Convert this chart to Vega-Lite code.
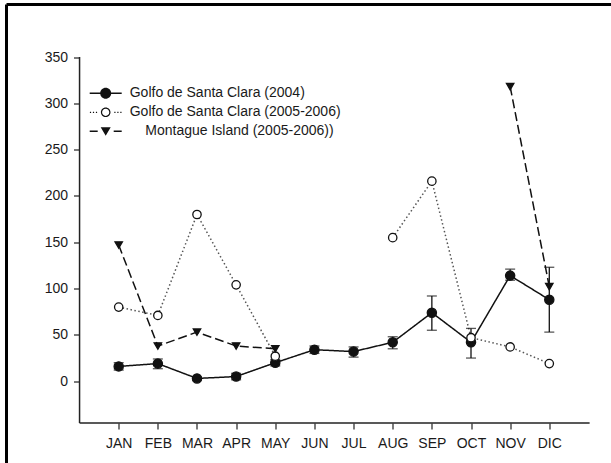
{
  "$schema": "https://vega.github.io/schema/vega-lite/v6.json",
  "autosize": "none",
  "width": 604.5,
  "height": 458.5,
  "padding": {"left": 6.5, "top": 4.5, "right": 0, "bottom": 0},
  "background": "white",
  "config": {
    "font": "Liberation Sans",
    "view": {"stroke": "#000", "strokeWidth": 3, "strokeDash": [604.5, 1063, 458.5, 0], "fill": null},
    "axis": {"domain": false, "grid": false, "labelFont": "Liberation Sans", "labelFontSize": 14, "labelColor": "#1a1a1a", "tickColor": "#222", "tickSize": 6, "tickWidth": 1.2, "title": null}
  },
  "datasets": {
    "pts": [
      {"m": 1, "s": "Golfo de Santa Clara (2004)", "v": 16, "lo": 12, "hi": 20},
      {"m": 2, "s": "Golfo de Santa Clara (2004)", "v": 19, "lo": 13.5, "hi": 24},
      {"m": 3, "s": "Golfo de Santa Clara (2004)", "v": 3, "lo": 1.5, "hi": 4.5},
      {"m": 4, "s": "Golfo de Santa Clara (2004)", "v": 5, "lo": 1.5, "hi": 8.5},
      {"m": 5, "s": "Golfo de Santa Clara (2004)", "v": 20, "lo": 16.5, "hi": 23.5},
      {"m": 6, "s": "Golfo de Santa Clara (2004)", "v": 34, "lo": 30, "hi": 38},
      {"m": 7, "s": "Golfo de Santa Clara (2004)", "v": 32, "lo": 26, "hi": 37},
      {"m": 8, "s": "Golfo de Santa Clara (2004)", "v": 42, "lo": 35, "hi": 48},
      {"m": 9, "s": "Golfo de Santa Clara (2004)", "v": 74, "lo": 55, "hi": 92},
      {"m": 10, "s": "Golfo de Santa Clara (2004)", "v": 42, "lo": 25, "hi": 57},
      {"m": 11, "s": "Golfo de Santa Clara (2004)", "v": 114, "lo": 109, "hi": 121},
      {"m": 12, "s": "Golfo de Santa Clara (2004)", "v": 88, "lo": 53, "hi": 123},
      {"m": 1, "s": "Golfo de Santa Clara (2005-2006)", "v": 80},
      {"m": 2, "s": "Golfo de Santa Clara (2005-2006)", "v": 71},
      {"m": 3, "s": "Golfo de Santa Clara (2005-2006)", "v": 180},
      {"m": 4, "s": "Golfo de Santa Clara (2005-2006)", "v": 104},
      {"m": 5, "s": "Golfo de Santa Clara (2005-2006)", "v": 27},
      {"m": 6, "s": "Golfo de Santa Clara (2005-2006)", "v": null},
      {"m": 7, "s": "Golfo de Santa Clara (2005-2006)", "v": null},
      {"m": 8, "s": "Golfo de Santa Clara (2005-2006)", "v": 155},
      {"m": 9, "s": "Golfo de Santa Clara (2005-2006)", "v": 216},
      {"m": 10, "s": "Golfo de Santa Clara (2005-2006)", "v": 47},
      {"m": 11, "s": "Golfo de Santa Clara (2005-2006)", "v": 37},
      {"m": 12, "s": "Golfo de Santa Clara (2005-2006)", "v": 19},
      {"m": 1, "s": "Montague Island (2005-2006))", "v": 147},
      {"m": 2, "s": "Montague Island (2005-2006))", "v": 38},
      {"m": 3, "s": "Montague Island (2005-2006))", "v": 53},
      {"m": 4, "s": "Montague Island (2005-2006))", "v": 38},
      {"m": 5, "s": "Montague Island (2005-2006))", "v": 35},
      {"m": 6, "s": "Montague Island (2005-2006))", "v": null},
      {"m": 7, "s": "Montague Island (2005-2006))", "v": null},
      {"m": 8, "s": "Montague Island (2005-2006))", "v": null},
      {"m": 9, "s": "Montague Island (2005-2006))", "v": null},
      {"m": 10, "s": "Montague Island (2005-2006))", "v": null},
      {"m": 11, "s": "Montague Island (2005-2006))", "v": 318},
      {"m": 12, "s": "Montague Island (2005-2006))", "v": 102}
    ],
    "one": [{"k": "axis"}]
  },
  "layer": [
    {
      "data": {"name": "one"},
      "mark": {"type": "rule", "color": "#222", "strokeWidth": 1.5},
      "encoding": {
        "x": {"datum": 0, "type": "quantitative", "scale": {"domain": [-1.8663, 13.5763], "nice": false, "zero": false},
          "axis": {"values": [1,2,3,4,5,6,7,8,9,10,11,12], "labelExpr": "['JAN','FEB','MAR','APR','MAY','JUN','JUL','AUG','SEP','OCT','NOV','DIC'][datum.value - 1]", "offset": -40.1, "labelPadding": 8, "title": null}},
        "x2": {"datum": 13.03},
        "y": {"datum": -45, "type": "quantitative", "scale": {"domain": [-88.3, 406.68], "nice": false, "zero": false},
          "axis": {"values": [0,50,100,150,200,250,300,350], "offset": -73, "labelPadding": 6, "title": null}}
      }
    },
    {
      "data": {"name": "one"},
      "mark": {"type": "rule", "color": "#222", "strokeWidth": 1.5},
      "encoding": {
        "x": {"datum": 0, "type": "quantitative"},
        "y": {"datum": -45, "type": "quantitative"},
        "y2": {"datum": 350}
      }
    },
    {
      "data": {"name": "pts"},
      "layer": [
        {
          "mark": {"type": "line", "strokeWidth": 1.5, "invalid": "break-paths-show-domains"},
          "encoding": {
            "x": {"field": "m", "type": "quantitative"},
            "y": {"field": "v", "type": "quantitative"},
            "strokeDash": {"field": "s", "type": "nominal", "scale": {"domain": ["Golfo de Santa Clara (2004)", "Golfo de Santa Clara (2005-2006)", "Montague Island (2005-2006))"], "range": [[1, 0], [1.5, 2.5], [9, 4]]}, "legend": null},
            "stroke": {"field": "s", "type": "nominal", "scale": {"domain": ["Golfo de Santa Clara (2004)", "Golfo de Santa Clara (2005-2006)", "Montague Island (2005-2006))"], "range": ["#111", "#555", "#111"]}, "legend": null}
          }
        },
        {
          "transform": [{"filter": "isValid(datum.lo)"}],
          "mark": {"type": "rule", "color": "#111", "strokeWidth": 1.3},
          "encoding": {"x": {"field": "m", "type": "quantitative"}, "y": {"field": "lo", "type": "quantitative"}, "y2": {"field": "hi"}}
        },
        {
          "transform": [{"filter": "isValid(datum.lo)"}],
          "mark": {"type": "tick", "orient": "horizontal", "color": "#111", "size": 10, "thickness": 1.3},
          "encoding": {"x": {"field": "m", "type": "quantitative"}, "y": {"field": "lo", "type": "quantitative"}}
        },
        {
          "transform": [{"filter": "isValid(datum.lo)"}],
          "mark": {"type": "tick", "orient": "horizontal", "color": "#111", "size": 10, "thickness": 1.3},
          "encoding": {"x": {"field": "m", "type": "quantitative"}, "y": {"field": "hi", "type": "quantitative"}}
        },
        {
          "transform": [{"filter": "isValid(datum.v)"}],
          "mark": {"type": "point", "filled": true, "stroke": "#111", "strokeWidth": 1.3, "opacity": 1},
          "encoding": {
            "x": {"field": "m", "type": "quantitative"},
            "y": {"field": "v", "type": "quantitative"},
            "shape": {"field": "s", "type": "nominal", "scale": {"domain": ["Golfo de Santa Clara (2004)", "Golfo de Santa Clara (2005-2006)", "Montague Island (2005-2006))"], "range": ["circle", "circle", "triangle-down"]}, "legend": null},
            "fill": {"field": "s", "type": "nominal", "scale": {"domain": ["Golfo de Santa Clara (2004)", "Golfo de Santa Clara (2005-2006)", "Montague Island (2005-2006))"], "range": ["#111", "#fff", "#111"]}, "legend": null},
            "size": {"field": "s", "type": "nominal", "scale": {"domain": ["Golfo de Santa Clara (2004)", "Golfo de Santa Clara (2005-2006)", "Montague Island (2005-2006))"], "range": [85, 55, 100]}, "legend": null}
          }
        },
        {
          "transform": [{"filter": "isValid(datum.v)"}],
          "mark": {"type": "point", "filled": true, "color": "#111", "opacity": 0},
          "encoding": {
            "x": {"field": "m", "type": "quantitative"},
            "y": {"field": "v", "type": "quantitative"},
            "shape": {"field": "s", "type": "nominal",
              "scale": {"domain": ["Golfo de Santa Clara (2004)", "Golfo de Santa Clara (2005-2006)", "Montague Island (2005-2006))"],
                "range": [
                  "M-1.333,-0.0625H-0.4V0.0625H-1.333Z M0.4,-0.0625H1.333V0.0625H0.4Z M0.459,0A0.459,0.459,0,1,1,-0.459,0A0.459,0.459,0,1,1,0.459,0Z",
                  "M-1.317,-0.05h0.1v0.1h-0.1Z M-1.067,-0.05h0.1v0.1h-0.1Z M-0.817,-0.05h0.1v0.1h-0.1Z M0.717,-0.05h0.1v0.1h-0.1Z M0.967,-0.05h0.1v0.1h-0.1Z M1.217,-0.05h0.1v0.1h-0.1Z M0.4,0A0.4,0.4,0,1,1,-0.4,0A0.4,0.4,0,1,1,0.4,0Z M0.3,0A0.3,0.3,0,1,0,-0.3,0A0.3,0.3,0,1,0,0.3,0Z",
                  "M-1.333,-0.0625H-0.667V0.0625H-1.333Z M0.667,-0.0625H1.333V0.0625H0.667Z M-0.417,-0.333H0.417L0,0.375Z"
                ]},
              "legend": {"orient": "none", "legendX": 87.2, "legendY": 76.8, "title": null, "symbolSize": 576, "symbolStrokeWidth": 0, "symbolOpacity": 1, "symbolFillColor": "#111", "labelFontSize": 14, "labelFont": "Liberation Sans", "labelColor": "#1a1a1a", "labelOffset": 12, "rowPadding": 0, "padding": 0, "labelLimit": 400,
                "labelExpr": "slice(datum.label, 0, 8) == 'Montague' ? '\u200b\u00a0\u00a0\u00a0\u00a0' + datum.label : datum.label"}
            }
          }
        }
      ],
      "resolve": {"scale": {"shape": "independent"}}
    }
  ]
}
